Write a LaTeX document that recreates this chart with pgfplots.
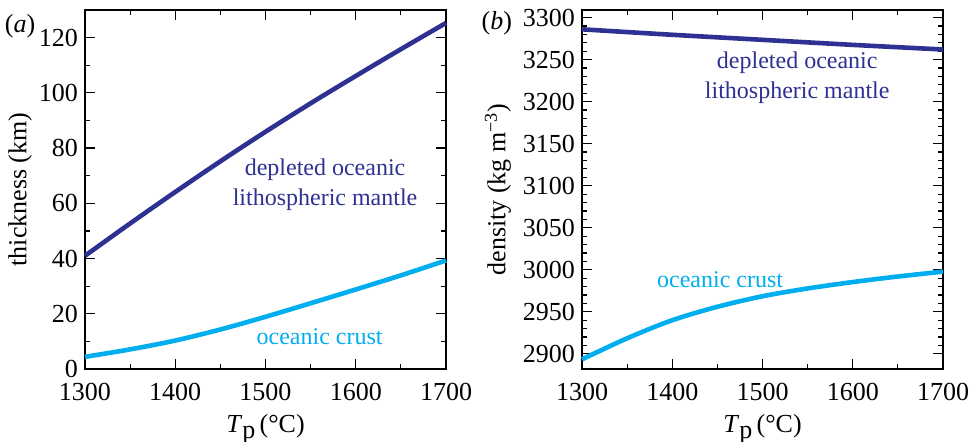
\documentclass[border=0pt]{standalone}
\usepackage{fontspec}
\setmainfont{Liberation Serif}
\usepackage{pgfplots}
\pgfplotsset{compat=1.18}
\definecolor{dblue}{RGB}{46,49,146}
\definecolor{cyanc}{RGB}{0,174,239}
\pgfplotsset{
  common/.style={
    scale only axis, width=180.5pt, height=179.5pt,
    xmin=1300, xmax=1700, xtick={1300,1400,...,1700},
    minor x tick num=1,
    tick align=inside, major tick length=5pt, minor tick length=2.5pt,
    axis line style={line width=0.8pt}, every tick/.style={black, line width=0.6pt},
    tick label style={font=\fontsize{13}{15}\selectfont},
    xticklabel style={yshift=-3.5pt},
    label style={font=\fontsize{13}{15}\selectfont},
    /pgf/number format/assume math mode=true,
    /pgf/number format/1000 sep={},
    xlabel={\textit{T}\raisebox{-0.45ex}{p}\,(°C)},
    xlabel style={at={(axis description cs:0.5,-0.168)}, anchor=center},
    clip=false,
  }
}
\begin{document}
\begin{tikzpicture}
\path[use as bounding box] (-42.5pt,-36.5pt) rectangle (442.5pt,184.5pt);
\begin{axis}[common, at={(0,0)}, anchor=south west,
  ymin=0, ymax=130, ytick={0,20,...,120}, minor y tick num=1,
  ylabel={thickness (km)},
  ylabel style={at={(axis description cs:-0.18,0.5)}, anchor=center},
]
\addplot[dblue, line width=2.3pt, smooth] coordinates {
(1300,41.0) (1350,52.7) (1400,64.1) (1450,75.2) (1500,85.9) (1550,96.2) (1600,106.1) (1650,115.8) (1700,125.3)};
\addplot[cyanc, line width=2.3pt, smooth] coordinates {
(1300,4.4) (1350,7.1) (1400,10.3) (1450,14.3) (1500,18.9) (1550,23.8) (1600,28.8) (1650,33.9) (1700,39.3)};
\node[dblue, align=center, font=\fontsize{12}{15}\selectfont] at (axis cs:1566,66.8) {depleted oceanic\\lithospheric mantle};
\node[cyanc, font=\fontsize{12}{14}\selectfont] at (axis cs:1560,11.6) {oceanic crust};
\node[font=\fontsize{13}{15}\selectfont] at (axis description cs:-0.18,0.955) {(\textit{a})};
\end{axis}
\begin{axis}[common, at={(248.5pt,0)}, anchor=south west,
  ymin=2882, ymax=3309, ytick={2900,2950,...,3300}, minor y tick num=4,
  ylabel={density (kg m\textsuperscript{−3})},
  ylabel style={at={(axis description cs:-0.233,0.5)}, anchor=center},
]
\addplot[dblue, line width=2.3pt, smooth] coordinates {
(1300,3286.0) (1400,3279.5) (1500,3273.5) (1600,3267.5) (1700,3262.0)};
\addplot[cyanc, line width=2.3pt, smooth] coordinates {
(1300,2893.5) (1350,2918.5) (1400,2940.0) (1450,2956.0) (1500,2968.5) (1550,2977.8) (1600,2985.4) (1650,2992.0) (1700,2997.8)};
\node[dblue, align=center, font=\fontsize{12}{15}\selectfont] at (axis cs:1538.5,3228) {depleted oceanic\\lithospheric mantle};
\node[cyanc, font=\fontsize{12}{14}\selectfont] at (axis cs:1453,2988.8) {oceanic crust};
\node[font=\fontsize{13}{15}\selectfont] at (axis description cs:-0.236,0.962) {(\textit{b})};
\end{axis}
\end{tikzpicture}
\end{document}
